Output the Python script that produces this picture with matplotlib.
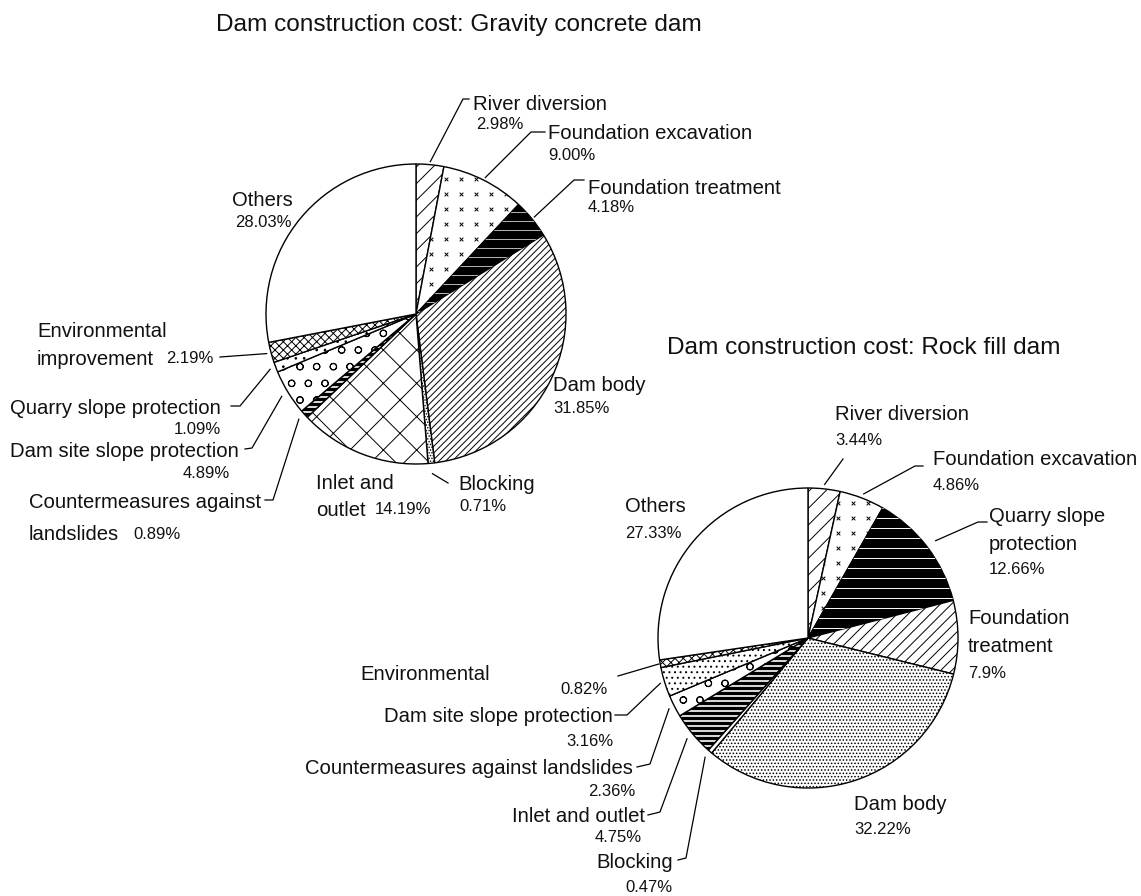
import numpy as np
import matplotlib
matplotlib.use("Agg")
import matplotlib.pyplot as plt
from matplotlib.collections import LineCollection

W, H = 1141, 896
plt.rcParams['font.family'] = ['Liberation Sans', 'DejaVu Sans']
plt.rcParams['hatch.linewidth'] = 0.7

# --- data: gravity concrete dam ---
gravity_items = ["River diversion", "Foundation excavation", "Foundation treatment",
                 "Dam body", "Blocking", "Inlet and\noutlet",
                 "Countermeasures against\nlandslides", "Dam site slope protection",
                 "Quarry slope protection", "Environmental\nimprovement", "Others"]
gravity_share = [2.98, 9.00, 4.18, 31.85, 0.71, 14.19, 0.89, 4.89, 1.09, 2.19, 28.03]
gravity_pct = ["2.98%", "9.00%", "4.18%", "31.85%", "0.71%", "14.19%",
               "0.89%", "4.89%", "1.09%", "2.19%", "28.03%"]

# --- data: rock fill dam ---
rock_items = ["River diversion", "Foundation excavation", "Quarry slope\nprotection",
              "Foundation\ntreatment", "Dam body", "Blocking", "Inlet and outlet",
              "Countermeasures against landslides", "Dam site slope protection",
              "Environmental", "Others"]
rock_share = [3.44, 4.86, 12.66, 7.9, 32.22, 0.47, 4.75, 2.36, 3.16, 0.82, 27.33]
rock_pct = ["3.44%", "4.86%", "12.66%", "7.9%", "32.22%", "0.47%", "4.75%",
            "2.36%", "3.16%", "0.82%", "27.33%"]

# fill style per slice: hatch string, or a special texture name
gravity_fill = ['//', 'xmarks', 'black', '/////', '......', 'x', 'stripes',
                'o', '..', 'xxxx', '']
rock_fill = ['//', 'xmarks', 'blacklines', '///', '.....', '', 'stripes',
             'o', '...', 'xxxx', '']

# layout (pixel coords, y from top): name pos, ha, line step, pct pos, pct ha, leader
gravity_layout = [
    ((473, 102), 'left', 0, (476, 123), 'left', 1.02, [(463, 99), (469, 99)]),
    ((548, 131), 'left', 0, (548, 154), 'left', 1.02, [(531, 132), (545, 132)]),
    ((588, 186), 'left', 0, (588, 206), 'left', 1.02, [(574, 180), (584, 180)]),
    ((553, 383), 'left', 0, (553, 407), 'left', None, []),
    ((458, 482), 'left', 0, (459, 505), 'left', 1.07, [(448, 483)]),
    ((316, 481), 'left', 27, (375, 508), 'left', None, []),
    ((29, 500), 'left', 33, (133, 533), 'left', 1.05, [(273, 500), (265, 500)]),
    ((10, 449), 'left', 0, (230, 472), 'right', 1.05, [(252, 448), (245, 449)]),
    ((10, 406), 'left', 0, (221, 428), 'right', 1.04, [(240, 406), (231, 406)]),
    ((37, 329), 'left', 28, (166, 357), 'left', 1.03, [(220, 357)]),
    ((262, 198), 'center', 0, (263, 221), 'center', None, []),
]
rock_layout = [
    ((835, 412), 'left', 0, (835, 439), 'left', 1.03, [(843, 459)]),
    ((933, 457), 'left', 0, (933, 484), 'left', 1.03, [(915, 466), (923, 466)]),
    ((989, 515), 'left', 27, (989, 568), 'left', 1.07, [(978, 522), (987, 522)]),
    ((968, 617), 'left', 28, (968, 672), 'left', None, []),
    ((854, 803), 'left', 0, (854, 828), 'left', None, []),
    ((673, 860), 'right', 0, (625, 886), 'left', 1.05, [(686, 858), (678, 860)]),
    ((645, 815), 'right', 0, (642, 836), 'right', 1.05, [(660, 812), (648, 815)]),
    ((633, 767), 'right', 0, (635, 790), 'right', 1.04, [(650, 764), (637, 767)]),
    ((613, 715), 'right', 0, (613, 740), 'right', 1.03, [(627, 715), (615, 715)]),
    ((360, 673), 'left', 0, (608, 688), 'right', 1.01, [(618, 676)]),
    ((625, 505), 'left', 0, (625, 532), 'left', None, []),
]

NAME_SIZE = 14.6
PCT_SIZE = 12
TITLE_SIZE = 17.6


def Y(y):
    return H - y


def clip_lines(ax, wedge, step, lw, color, zorder=3):
    cx, cy = wedge.center
    r = wedge.r
    segs = [[(cx - r, y), (cx + r, y)] for y in np.arange(cy - r, cy + r, step)]
    lc = LineCollection(segs, colors=color, linewidths=lw, zorder=zorder)
    ax.add_collection(lc)
    lc.set_clip_path(wedge)


def clip_marks(ax, wedge, step):
    cx, cy = wedge.center
    r = wedge.r
    gx, gy = np.meshgrid(np.arange(cx - r, cx + r, step), np.arange(cy - r, cy + r, step))
    sc = ax.scatter(gx.ravel(), gy.ravel(), marker='x', s=7, c='black',
                    linewidths=0.7, zorder=3)
    sc.set_clip_path(wedge)


def draw_pie(ax, share, items, pct, fills, layout, center, radius):
    cx, cy = center[0], Y(center[1])
    wedges, _ = ax.pie(share, center=(cx, cy), radius=radius, startangle=90,
                       counterclock=False, normalize=True,
                       wedgeprops=dict(edgecolor='black', linewidth=1.0,
                                       facecolor='white'))
    for w, f in zip(wedges, fills):
        if f == 'xmarks':
            clip_marks(ax, w, 15)
        elif f == 'black':
            w.set_facecolor('black')
            clip_lines(ax, w, 9, 0.5, 'white')
        elif f == 'blacklines':
            w.set_facecolor('black')
            clip_lines(ax, w, 10, 0.7, 'white')
        elif f == 'stripes':
            clip_lines(ax, w, 5, 2.4, 'black')
        elif f:
            w.set_hatch(f)
    for w, name, p, lay in zip(wedges, items, pct, layout):
        (nx, ny), ha, dy, (px, py), pha, rk, pts = lay
        for i, line in enumerate(name.split('\n')):
            ax.text(nx, Y(ny + i * dy), line, ha=ha, va='center_baseline',
                    fontsize=NAME_SIZE, color='#111111')
        ax.text(px, Y(py), p, ha=pha, va='center_baseline', fontsize=PCT_SIZE,
                color='#111111')
        if rk is not None:
            ang = np.deg2rad((w.theta1 + w.theta2) / 2)
            sx = cx + radius * rk * np.cos(ang)
            sy = cy + radius * rk * np.sin(ang)
            xs = [sx] + [q[0] for q in pts]
            ys = [sy] + [Y(q[1]) for q in pts]
            ax.plot(xs, ys, color='black', lw=0.9, zorder=4)


fig = plt.figure(figsize=(W / 100, H / 100), dpi=100)
ax = fig.add_axes([0, 0, 1, 1])

draw_pie(ax, gravity_share, gravity_items, gravity_pct, gravity_fill,
         gravity_layout, (416, 314), 150)
draw_pie(ax, rock_share, rock_items, rock_pct, rock_fill,
         rock_layout, (808, 638), 150)

ax.text(216, Y(22), "Dam construction cost: Gravity concrete dam", ha='left',
        va='center_baseline', fontsize=TITLE_SIZE, color='#111111')
ax.text(667, Y(345), "Dam construction cost: Rock fill dam", ha='left',
        va='center_baseline', fontsize=TITLE_SIZE, color='#111111')

ax.set_xlim(0, W)
ax.set_ylim(0, H)
ax.set_aspect('equal')
ax.axis('off')

fig.savefig("out.png", dpi=100, facecolor='white')
